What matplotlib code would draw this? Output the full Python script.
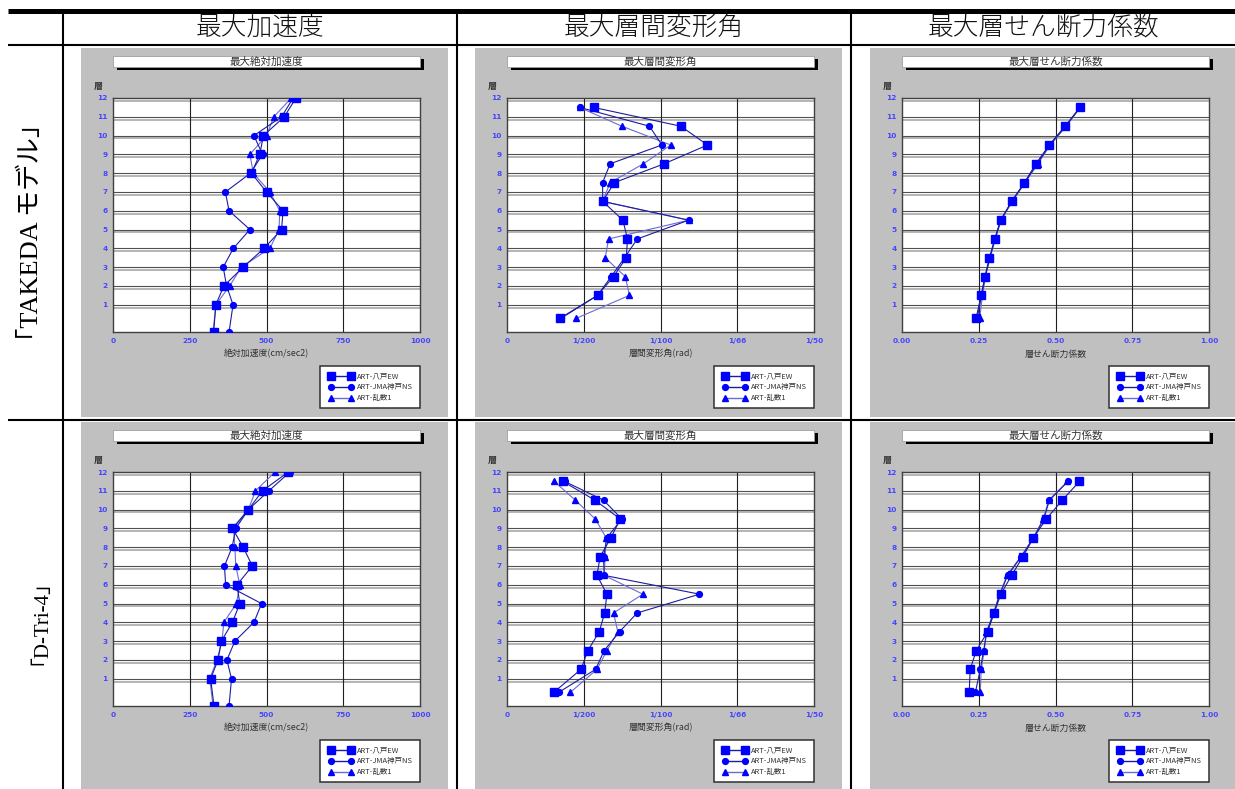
import matplotlib
matplotlib.use('agg')
import matplotlib.pyplot as plt
from matplotlib.patches import Rectangle

plt.rcParams['font.family'] = ['Noto Sans CJK JP', 'DejaVu Sans']

# ---- data ----
col_titles = ['最大加速度', '最大層間変形角', '最大層せん断力係数']
row_titles = ['「TAKEDA モデル」', '「D-Tri-4」']
chart_titles = ['最大絶対加速度', '最大層間変形角', '最大層せん断力係数']
x_labels = ['絶対加速度(cm/sec2)', '層間変形角(rad)', '層せん断力係数']
series_names = ['ART-八戸EW', 'ART-JMA神戸NS', 'ART-乱数1']

acc_ticks = [0, 250, 500, 750, 1000]
acc_ticklabels = ['0', '250', '500', '750', '1000']
drift_ticks = [0, 5, 10, 15, 20]          # x 1/1000 rad
drift_ticklabels = ['0', '1/200', '1/100', '1/66', '1/50']
shear_ticks = [0, 0.25, 0.5, 0.75, 1.0]
shear_ticklabels = ['0.00', '0.25', '0.50', '0.75', '1.00']
floor_ticks = [1, 2, 3, 4, 5, 6, 7, 8, 9, 10, 11, 12]

# vertical positions of the points (floor levels / mid-storeys)
acc_level = [-0.45, 1, 2, 3, 4, 5, 6, 7, 8, 9, 10, 11, 12]
storey_level = [0.27, 1.5, 2.5, 3.5, 4.5, 5.5, 6.5, 7.5, 8.5, 9.5, 10.5, 11.5]

# TAKEDA model
takeda_acc_hachinohe = [328, 335, 361, 424, 492, 549, 554, 500, 451, 478, 490, 558, 596]
takeda_acc_kobe = [378, 391, 370, 359, 392, 446, 378, 366, 448, 487, 459, 549, 587]
takeda_acc_rand = [326, 335, 380, 418, 511, 541, 543, 511, 457, 446, 500, 524, 581]

takeda_drift_hachinohe = [3.43, 5.9, 6.94, 7.77, 7.85, 7.55, 6.23, 7.0, 10.24, 13.06, 11.32, 5.64]
takeda_drift_kobe = [3.5, 5.9, 6.79, 7.66, 8.48, 11.84, 6.23, 6.23, 6.72, 10.09, 9.28, 4.73]
takeda_drift_rand = [4.49, 7.98, 7.7, 6.4, 6.62, 11.84, 6.23, 6.72, 8.89, 10.67, 7.48, 4.73]

takeda_shear_hachinohe = [0.241, 0.258, 0.270, 0.285, 0.302, 0.321, 0.357, 0.399, 0.436, 0.480, 0.531, 0.580]
takeda_shear_kobe = [0.245, 0.259, 0.271, 0.286, 0.303, 0.322, 0.358, 0.400, 0.440, 0.481, 0.533, 0.580]
takeda_shear_rand = [0.253, 0.262, 0.272, 0.287, 0.304, 0.323, 0.359, 0.401, 0.443, 0.483, 0.535, 0.581]

# D-Tri-4 model
dtri_acc_hachinohe = [329, 318, 342, 353, 389, 413, 404, 454, 424, 389, 441, 487, 571]
dtri_acc_kobe = [378, 386, 371, 397, 459, 484, 367, 363, 388, 400, 441, 508, 576]
dtri_acc_rand = [326, 315, 339, 355, 361, 402, 413, 400, 397, 393, 441, 464, 528]

dtri_drift_hachinohe = [3.04, 4.82, 5.27, 6.01, 6.36, 6.51, 5.86, 6.07, 6.77, 7.38, 5.73, 3.64]
dtri_drift_kobe = [3.36, 5.77, 6.33, 7.33, 8.48, 12.54, 6.33, 6.29, 6.51, 7.48, 6.29, 3.75]
dtri_drift_rand = [4.12, 5.86, 6.51, 7.22, 6.94, 8.85, 6.33, 6.4, 6.46, 5.75, 4.45, 3.08]

dtri_shear_hachinohe = [0.219, 0.222, 0.242, 0.279, 0.300, 0.322, 0.357, 0.394, 0.428, 0.470, 0.522, 0.578]
dtri_shear_kobe = [0.239, 0.255, 0.266, 0.276, 0.299, 0.319, 0.344, 0.389, 0.429, 0.462, 0.480, 0.541]
dtri_shear_rand = [0.255, 0.258, 0.268, 0.275, 0.298, 0.318, 0.342, 0.387, 0.428, 0.460, 0.478, 0.539]

# ---- layout ----
W, H = 1235, 789
fig = plt.figure(figsize=(W / 100, H / 100), dpi=100)
fig.patch.set_facecolor('white')

def add_ax(x0, y0, x1, y1):
    return fig.add_axes([x0 / W, 1 - y1 / H, (x1 - x0) / W, (y1 - y0) / H])

blue = '#0000ff'
styles = [('s', 5.4, '#1c1ca0'), ('o', 4.2, '#1c1ca0'), ('^', 4.8, '#6a6ad8')]

def draw_panel(gx, gy, gw, gh, title, xlabel, ticks, ticklabels, levels, data):
    bg = add_ax(gx, gy, gx + gw, gy + gh)
    bg.set_facecolor('#c0c0c0')
    bg.set_xticks([])
    bg.set_yticks([])
    for s in bg.spines.values():
        s.set_visible(False)
    bg.add_patch(Rectangle((36, 11), 307, 11, color='black', lw=0))
    bg.add_patch(Rectangle((32, 8), 307, 11, facecolor='white', edgecolor='#a0a0a0', lw=0.6))
    bg.text(185.5, 13.8, title, ha='center', va='center', fontsize=7.6, color='#333333')
    bg.text(17, 39, '層', ha='center', va='center', fontsize=6.5, color='#333333', fontweight='bold')
    bg.text(185.5, 306, xlabel, ha='center', va='center', fontsize=6.4, color='#333333')
    bg.add_patch(Rectangle((239, 318), 100, 42, facecolor='white', edgecolor='#303030', lw=1.1))
    for i, name in enumerate(series_names):
        mk, ms, lc = styles[i]
        yy = 328 + 11 * i
        bg.plot([250, 270], [yy, yy], color=lc, lw=1.0, marker=mk, ms=ms, mfc=blue, mec=blue)
        bg.text(276, yy, name, ha='left', va='center', fontsize=5.4, color='#333333')
    bg.set_xlim(0, gw)
    bg.set_ylim(gh, 0)

    ax = add_ax(gx + 32, gy + 50, gx + 339, gy + 284)
    ax.set_facecolor('white')
    for y in floor_ticks:
        ax.axhline(y - 0.15, color='#b4b4b4', lw=1.4, zorder=1)
        ax.axhline(y, color='#505050', lw=0.8, zorder=1)
    for x in ticks[1:-1]:
        ax.axvline(x, color='#202020', lw=0.8, zorder=1)
    for i in [2, 1, 0]:
        mk, ms, lc = styles[i]
        ax.plot(data[i], levels, color=lc, lw=0.8, marker=mk, ms=ms,
                mfc=blue, mec=blue, zorder=3 + (2 - i))
    ax.set_xlim(ticks[0], ticks[-1])
    ax.set_ylim(-0.45, 12)
    ax.set_xticks(ticks)
    ax.set_xticklabels(ticklabels)
    ax.set_yticks(floor_ticks)
    ax.tick_params(length=0, labelsize=5.3, labelcolor='#4646ff', pad=4)
    for lab in ax.get_xticklabels() + ax.get_yticklabels():
        lab.set_fontfamily('DejaVu Sans')
        lab.set_fontweight('bold')
    for s in ax.spines.values():
        s.set_color('#404040')
        s.set_linewidth(1.0)

col_gx = [81, 475, 870]
col_gw = [367, 367, 365]
row_gy = [48, 422]
row_gh = [369, 367]

all_data = [
    [[takeda_acc_hachinohe, takeda_acc_kobe, takeda_acc_rand],
     [takeda_drift_hachinohe, takeda_drift_kobe, takeda_drift_rand],
     [takeda_shear_hachinohe, takeda_shear_kobe, takeda_shear_rand]],
    [[dtri_acc_hachinohe, dtri_acc_kobe, dtri_acc_rand],
     [dtri_drift_hachinohe, dtri_drift_kobe, dtri_drift_rand],
     [dtri_shear_hachinohe, dtri_shear_kobe, dtri_shear_rand]],
]
tick_sets = [(acc_ticks, acc_ticklabels), (drift_ticks, drift_ticklabels), (shear_ticks, shear_ticklabels)]
level_sets = [acc_level, storey_level, storey_level]

for r in range(2):
    for c in range(3):
        draw_panel(col_gx[c], row_gy[r], col_gw[c], row_gh[r], chart_titles[c], x_labels[c],
                   tick_sets[c][0], tick_sets[c][1], level_sets[c], all_data[r][c])

# ---- table frame and headings ----
tab = add_ax(0, 0, W, H)
tab.set_xlim(0, W)
tab.set_ylim(H, 0)
tab.axis('off')
tab.patch.set_alpha(0)
tab.plot([8, W], [10.5, 10.5], color='black', lw=3.6, solid_capstyle='butt')
tab.plot([8, W], [45, 45], color='black', lw=1.5, solid_capstyle='butt')
tab.plot([8, W], [420, 420], color='black', lw=1.5, solid_capstyle='butt')
for x in [62.5, 457, 851]:
    tab.plot([x, x], [12, H], color='black', lw=1.5, solid_capstyle='butt')

col_centers = [260, 654, 1043]
for c in range(3):
    tab.text(col_centers[c], 28, col_titles[c], ha='center', va='center', fontsize=18.5,
             color='#111111', fontweight='light')
row_centers = [232, 612]
row_sizes = [19, 15]
for r in range(2):
    tab.text(31, row_centers[r], row_titles[r], ha='center', va='center', rotation=90,
             fontsize=row_sizes[r], family=['Liberation Serif', 'Noto Sans CJK JP'], color='black')

fig.savefig('out.png', dpi=100, facecolor='white')
